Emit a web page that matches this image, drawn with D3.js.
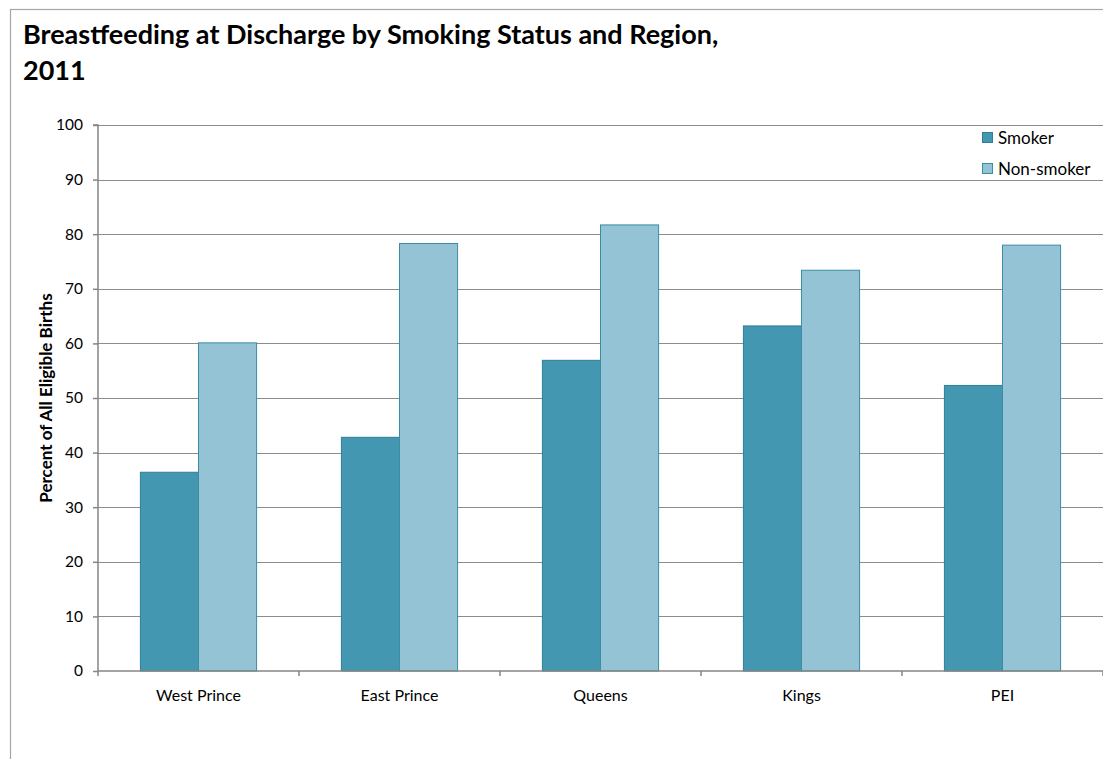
<!DOCTYPE html>
<html>
<head>
<meta charset="utf-8">
<script src="https://cdn.jsdelivr.net/npm/d3@7"></script>
<style>
  html, body { margin: 0; padding: 0; background: #fff; }
  svg { display: block; }
  text { font-family: Lato, "Open Sans", "Liberation Sans", sans-serif; }
</style>
</head>
<body>
<svg id="chart" width="1103" height="759"></svg>
<script>
const categories = ["West Prince", "East Prince", "Queens", "Kings", "PEI"];
const seriesNames = ["Smoker", "Non-smoker"];
const smoker = [36.4, 42.8, 56.9, 63.2, 52.3];
const nonSmoker = [60.1, 78.3, 81.7, 73.4, 78.0];
const yTicks = [0, 10, 20, 30, 40, 50, 60, 70, 80, 90, 100];
const titleLines = ["Breastfeeding at Discharge by Smoking Status and Region,", "2011"];
const yAxisTitle = "Percent of All Eligible Births";

const fills = ["#4397B0", "#93C3D5"];
const strokes = ["#2F7F96", "#3C8CA3"];

const svg = d3.select("#chart");
const m = { left: 98, top: 125, right: 1103, bottom: 671 };

// outer border
svg.append("rect").attr("x", 10.5).attr("y", 9.5).attr("width", 1300).attr("height", 1000)
  .attr("fill", "none").attr("stroke", "#a6a6a6").attr("stroke-width", 1.2);

// title
const title = svg.append("text").attr("x", 23).attr("y", 44)
  .attr("font-size", 27).attr("font-weight", "bold").attr("fill", "#000");
titleLines.forEach((t, i) => {
  title.append("tspan").attr("x", 23).attr("y", 44 + i * 36).text(t);
});

const x0 = d3.scaleBand().domain(categories).range([m.left, m.right]).paddingInner(0).paddingOuter(0);
const x1 = d3.scaleBand().domain(seriesNames).range([0, x0.bandwidth()]).paddingInner(0).paddingOuter(0.73);
const y = d3.scaleLinear().domain([0, 100]).range([m.bottom, m.top]);

// gridlines
svg.append("g").selectAll("line").data(yTicks.filter(d => d > 0)).join("line")
  .attr("x1", m.left).attr("x2", m.right)
  .attr("y1", d => Math.round(y(d)) + 0.5).attr("y2", d => Math.round(y(d)) + 0.5)
  .attr("stroke", "#8c8c8c").attr("stroke-width", 1);

// bars
const data = categories.map((c, i) => ({ cat: c, vals: [smoker[i], nonSmoker[i]] }));
const groups = svg.append("g").selectAll("g").data(data).join("g")
  .attr("transform", d => `translate(${x0(d.cat)},0)`);
groups.selectAll("rect").data(d => d.vals.map((v, j) => ({ v, j }))).join("rect")
  .attr("x", d => x1(seriesNames[d.j]))
  .attr("width", x1.bandwidth())
  .attr("y", d => y(d.v))
  .attr("height", d => y(0) - y(d.v))
  .attr("fill", d => fills[d.j])
  .attr("stroke", d => strokes[d.j])
  .attr("stroke-width", 1);

// y axis
const yAxis = d3.axisLeft(y).tickValues(yTicks).tickSize(5).tickPadding(10);
const gy = svg.append("g").attr("transform", `translate(${m.left},0)`).call(yAxis);
gy.select(".domain").attr("stroke", "#868686").attr("stroke-width", 1.5).attr("d", `M-5,${m.top}H0V${m.bottom}`);
gy.selectAll(".tick line").attr("stroke", "#868686").attr("stroke-width", 1.5);
gy.selectAll(".tick text").attr("font-size", 15.5).attr("fill", "#000")
  .attr("font-family", "Lato, 'Open Sans', sans-serif");

// x axis
const xAxis = d3.axisBottom(x0).tickSize(0).tickPadding(19);
const gx = svg.append("g").attr("transform", `translate(0,${m.bottom})`).call(xAxis);
gx.select(".domain").attr("stroke", "#868686").attr("stroke-width", 1.5).attr("d", `M${m.left},0H${m.right}`);
gx.selectAll(".tick text").attr("font-size", 16).attr("fill", "#000")
  .attr("font-family", "Lato, 'Open Sans', sans-serif");
// category boundary ticks
svg.append("g").selectAll("line").data(categories.concat(["_end"])).join("line")
  .attr("x1", (d, i) => m.left + i * x0.bandwidth()).attr("x2", (d, i) => m.left + i * x0.bandwidth())
  .attr("y1", m.bottom).attr("y2", m.bottom + 5)
  .attr("stroke", "#868686").attr("stroke-width", 1.5);

// y axis title
svg.append("text").attr("transform", `translate(52,${(m.top + m.bottom) / 2}) rotate(-90)`)
  .attr("text-anchor", "middle").attr("font-size", 17).attr("font-weight", "bold").text(yAxisTitle);

// legend
const leg = svg.append("g").attr("transform", "translate(982,132)");
seriesNames.forEach((s, i) => {
  const g = leg.append("g").attr("transform", `translate(0,${i * 31})`);
  g.append("rect").attr("x", 0.5).attr("y", 0.5).attr("width", 10).attr("height", 10)
    .attr("fill", fills[i]).attr("stroke", strokes[i]).attr("stroke-width", 1);
  g.append("text").attr("x", 16).attr("y", 12).attr("font-size", 17).attr("fill", "#000").text(s);
});
</script>
</body>
</html>
